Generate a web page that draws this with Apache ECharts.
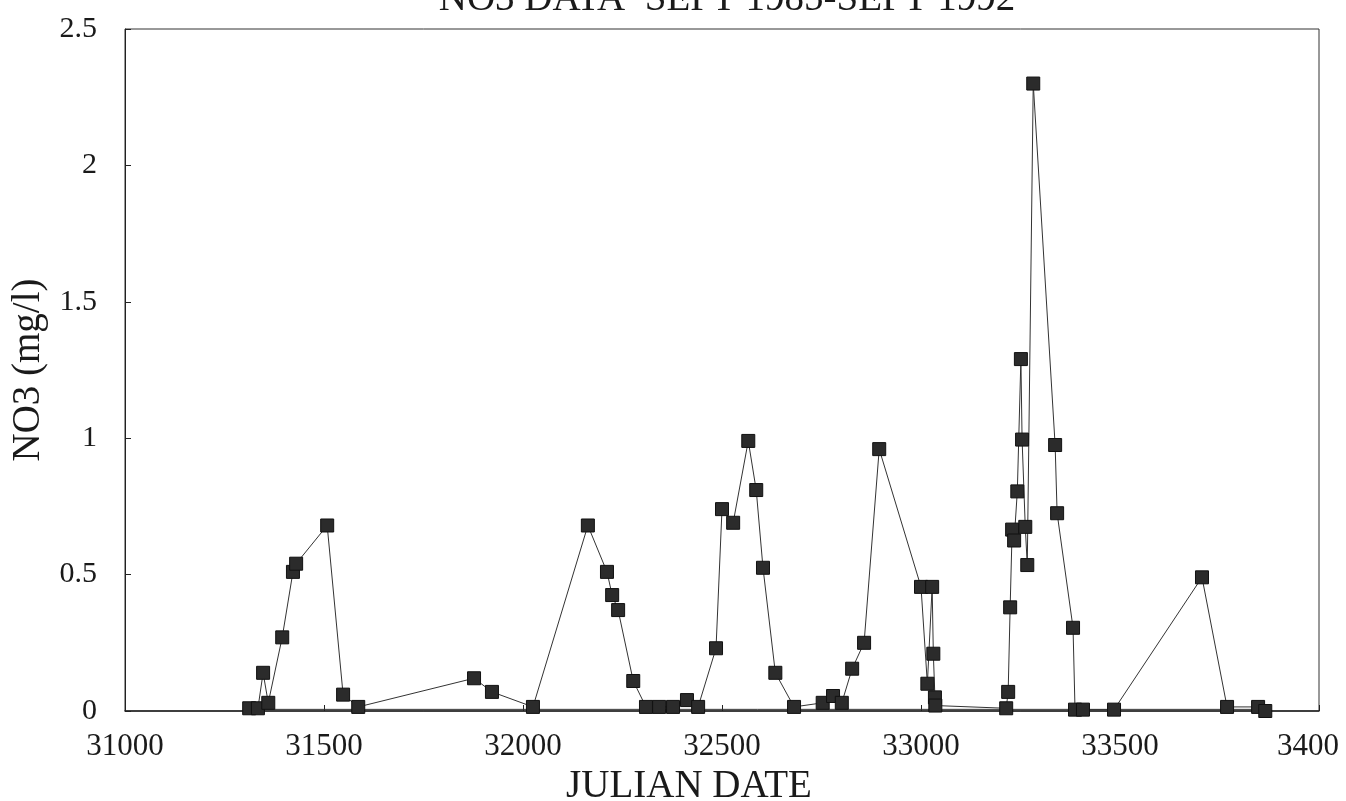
<!DOCTYPE html>
<html>
<head>
<meta charset="utf-8">
<script src="https://cdn.jsdelivr.net/npm/echarts@6/dist/echarts.min.js"></script>
<style>
html,body{margin:0;padding:0;background:#fff;}
#chart{width:1346px;height:801px;}
</style>
</head>
<body>
<div id="chart"></div>
<script>
// Julian dates of the samples
var julianDates = [
  31312, 31334, 31347, 31360, 31395, 31422, 31430, 31508, 31548, 31586,
  31877, 31922, 32025, 32163, 32211, 32224, 32239, 32277, 32309, 32342,
  32377, 32412, 32440, 32485, 32500, 32528, 32566, 32586, 32603, 32634,
  32681, 32753, 32779, 32801, 32827, 32857, 32895, 33000, 33016, 33028,
  33031, 33035, 33036, 33214, 33219, 33224, 33229, 33234, 33242, 33251,
  33254, 33262, 33267, 33282, 33337, 33342, 33382, 33387, 33407, 33485,
  33706, 33769, 33847, 33865
];
// NO3 concentration (mg/l)
var no3Values = [
  0.01, 0.01, 0.14, 0.03, 0.27, 0.51, 0.54, 0.68, 0.06, 0.015,
  0.12, 0.07, 0.015, 0.68, 0.51, 0.425, 0.37, 0.11, 0.015, 0.015,
  0.015, 0.04, 0.015, 0.23, 0.74, 0.69, 0.99, 0.81, 0.525, 0.14,
  0.015, 0.03, 0.055, 0.03, 0.155, 0.25, 0.96, 0.455, 0.10, 0.455,
  0.21, 0.05, 0.02, 0.01, 0.07, 0.38, 0.665, 0.625, 0.805, 1.29,
  0.995, 0.675, 0.535, 2.30, 0.975, 0.725, 0.305, 0.005, 0.005, 0.005,
  0.49, 0.015, 0.015, 0.0
];
// near-zero return line along the bottom of the plot
var baselineDates = [31312, 33865];
var baselineValues = [0.006, 0.006];

var xTickLabels = {31000:'31000', 31500:'31500', 32000:'32000', 32500:'32500', 33000:'33000', 33500:'33500', 34000:'3400'};
var yTickLabels = {0:'0', 0.5:'0.5', 1:'1', 1.5:'1.5', 2:'2', 2.5:'2.5'};

var titleText = 'NO3 DATA  SEPT 1985-SEPT 1992';
var xName = 'JULIAN DATE';
var yName = 'NO3 (mg/l)';

var mainData = julianDates.map(function(d, i){ return [d, no3Values[i]]; });
var baseData = baselineDates.map(function(d, i){ return [d, baselineValues[i]]; });

var FONT = '"Liberation Serif", "Times New Roman", serif';
var chart = echarts.init(document.getElementById('chart'), null, {renderer:'canvas'});
chart.setOption({
  backgroundColor: '#ffffff',
  animation: false,
  title: {
    text: titleText,
    left: 722,
    textAlign: 'center',
    top: -25,
    textStyle: {fontFamily: FONT, fontSize: 39, fontWeight: 'normal', color: '#1a1a1a'}
  },
  grid: {
    left: 125, right: 27, top: 29, bottom: 90,
    containLabel: false, outerBoundsMode: 'none',
    show: true, borderColor: '#333', borderWidth: 1, backgroundColor: 'transparent'
  },
  xAxis: {
    type: 'value', min: 31000, max: 34000, interval: 500,
    name: xName, nameLocation: 'middle', nameGap: 50,
    nameTextStyle: {fontFamily: FONT, fontSize: 39, color: '#1a1a1a', padding: [0, 66, 0, 0]},
    axisLine: {show: true, lineStyle: {color: '#222', width: 1.5}},
    axisTick: {show: true, inside: true, length: 6, lineStyle: {color: '#222'}},
    splitLine: {show: false},
    axisLabel: {
      margin: 20, fontFamily: FONT, fontSize: 31, color: '#1a1a1a',
      formatter: function(v){ return v === 34000 ? '{last|' + xTickLabels[v] + '}' : (xTickLabels[v] || ''); },
      rich: {last: {fontFamily: FONT, fontSize: 31, color: '#1a1a1a', padding: [0, 22, 0, 0]}}
    }
  },
  yAxis: {
    type: 'value', min: 0, max: 2.5, interval: 0.5,
    name: yName, nameLocation: 'middle', nameGap: 77, nameRotate: 90,
    nameTextStyle: {fontFamily: FONT, fontSize: 39, color: '#1a1a1a'},
    axisLine: {show: true, lineStyle: {color: '#222', width: 1}},
    axisTick: {show: true, inside: true, length: 6, lineStyle: {color: '#222'}},
    splitLine: {show: false},
    axisLabel: {
      margin: 28, fontFamily: FONT, fontSize: 30, color: '#1a1a1a',
      formatter: function(v){ return yTickLabels[v] !== undefined ? yTickLabels[v] : ''; }
    }
  },
  series: [
    {
      type: 'line', data: baseData, symbol: 'none',
      lineStyle: {color: '#333', width: 1}, z: 1
    },
    {
      type: 'line', data: mainData,
      symbol: 'rect', symbolSize: 13,
      lineStyle: {color: '#333', width: 1},
      itemStyle: {color: '#2b2b2b', borderColor: '#111', borderWidth: 1},
      z: 3
    }
  ]
});
</script>
</body>
</html>
